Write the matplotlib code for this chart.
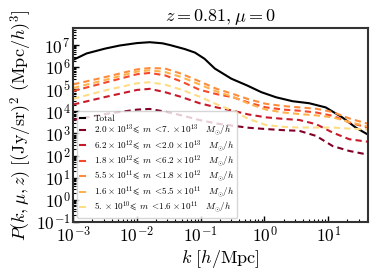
import matplotlib
matplotlib.use("Agg")
import matplotlib.pyplot as plt
from matplotlib.ticker import LogLocator, NullFormatter
import numpy as np

# log10 k and log10 P
logk_total = [-3.0, -2.79, -2.5, -2.27, -2.0, -1.8, -1.6, -1.48, -1.25, -1.09, -0.94,
              -0.78, -0.52, -0.27, -0.05, 0.18, 0.44, 0.70, 0.96, 1.22, 1.43, 1.61]
logp_total = [6.33, 6.62, 6.84, 6.98, 7.09, 7.13, 7.08, 7.00, 6.82, 6.66, 6.38,
              5.94, 5.48, 5.17, 4.87, 4.64, 4.46, 4.37, 4.18, 3.73, 3.27, 2.97]

logk_bins = [-3.0, -2.5, -2.0, -1.8, -1.56, -1.3, -1.02, -0.75, -0.495, -0.25, 0.026,
             0.3, 0.547, 0.81, 1.07, 1.33, 1.61]
logp_bins = {
    "orange":   [5.22, 5.55, 5.90, 5.96, 5.94, 5.70, 5.36, 5.02, 4.79, 4.55, 4.34, 4.24, 4.18, 4.12, 3.97, 3.68, 3.45],
    "lorange":  [5.06, 5.42, 5.80, 5.86, 5.78, 5.55, 5.22, 4.90, 4.66, 4.35, 4.08, 3.95, 3.88, 3.82, 3.73, 3.52, 3.32],
    "red":      [4.92, 5.30, 5.68, 5.74, 5.63, 5.35, 4.98, 4.78, 4.64, 4.40, 4.18, 4.08, 4.03, 3.95, 3.80, 3.50, 3.27],
    "pale":     [4.57, 4.95, 5.27, 5.32, 5.21, 4.98, 4.67, 4.32, 4.03, 3.66, 3.38, 3.30, 3.27, 3.27, 3.27, 3.22, 3.18],
    "crimson":  [4.31, 4.65, 4.97, 5.02, 4.87, 4.65, 4.37, 4.18, 4.03, 3.86, 3.73, 3.66, 3.61, 3.42, 3.04, 2.74, 2.63],
    "maroon":   [3.62, 3.88, 4.08, 4.11, 3.99, 3.82, 3.61, 3.45, 3.35, 3.26, 3.20, 3.15, 3.12, 2.89, 2.43, 2.21, 2.05],
}
# drawing order follows the legend (heaviest mass bin first)
bin_keys = ["maroon", "crimson", "red", "orange", "lorange", "pale"]
bin_colors = ["#800026", "#c81a2a", "#f5492a", "#fd8d3c", "#feb24c", "#fedd84"]
bin_labels = [
    r"$2.0\times10^{13}\!\leqslant\, m\ <\!7.\times10^{13}\quad M_{\odot}/h$",
    r"$6.2\times10^{12}\!\leqslant\, m\ <\!2.0\times10^{13}\quad M_{\odot}/h$",
    r"$1.8\times10^{12}\!\leqslant\, m\ <\!6.2\times10^{12}\quad M_{\odot}/h$",
    r"$5.5\times10^{11}\!\leqslant\, m\ <\!1.8\times10^{12}\quad M_{\odot}/h$",
    r"$1.6\times10^{11}\!\leqslant\, m\ <\!5.5\times10^{11}\quad M_{\odot}/h$",
    r"$5.\times10^{10}\!\leqslant\, m\ <\!1.6\times10^{11}\quad M_{\odot}/h$",
]

plt.rcParams["mathtext.fontset"] = "cm"
plt.rcParams["font.family"] = "serif"
plt.rcParams["font.serif"] = ["cmr10", "DejaVu Serif"]
plt.rcParams["axes.formatter.use_mathtext"] = True

fig = plt.figure(figsize=(3.79, 2.76), dpi=100)
ax = fig.add_axes([0.193, 0.196, 0.778, 0.703])

ax.plot(10 ** np.array(logk_total), 10 ** np.array(logp_total), color="black", lw=1.5, label="Total")
for key, col, lab in zip(bin_keys, bin_colors, bin_labels):
    ax.plot(10 ** np.array(logk_bins), 10 ** np.array(logp_bins[key]), color=col, lw=1.5,
            ls=(0, (3, 2)), label=lab)

ax.set_xscale("log")
ax.set_yscale("log")
ax.set_xlim(1e-3, 42)
ax.set_ylim(1e-1, 6e7)
ax.yaxis.set_major_locator(LogLocator(base=10, numticks=20))
ax.yaxis.set_minor_locator(LogLocator(base=10, subs=np.arange(2, 10), numticks=20))
ax.yaxis.set_minor_formatter(NullFormatter())
ax.tick_params(which="both", direction="in", labelsize=12.5, pad=2)
ax.tick_params(which="major", length=4, width=1)
ax.tick_params(which="minor", length=2, width=0.8)
for sp in ax.spines.values():
    sp.set_linewidth(1.5)
    sp.set_color("#333333")

ax.set_title(r"$z = 0.81, \mu = 0$", fontsize=13, pad=5)
ax.set_xlabel(r"$k\ [h/{\rm Mpc}]$", fontsize=13, labelpad=2)
ax.set_ylabel(r"$P(k,\mu,z)\ [({\rm Jy/sr})^2\ ({\rm Mpc}/h)^3]$", fontsize=13, labelpad=1)

leg = ax.legend(loc="lower left", fontsize=6.6, handlelength=0.5, handletextpad=1.0,
                borderpad=0.35, labelspacing=0.0, borderaxespad=0.4, frameon=True)
for line in leg.get_lines():
    line.set_linestyle("-")
    line.set_linewidth(1.5)

fig.savefig("out.png", dpi=100)
